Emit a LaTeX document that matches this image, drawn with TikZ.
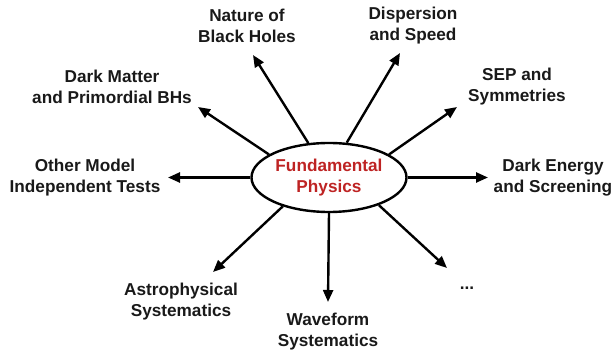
\documentclass[tikz,border=0pt]{standalone}
\usepackage{fontspec}
\setmainfont{Liberation Sans}
\usetikzlibrary{arrows.meta,shapes.geometric}
\definecolor{fpred}{RGB}{190,35,35}
\definecolor{lbl}{RGB}{25,25,25}
\tikzset{
  lab/.style={align=center, font=\bfseries\fontsize{17.2}{21}\selectfont, text=lbl, inner sep=0pt},
  arr/.style={line width=2.4pt, -{Triangle[length=12pt,width=10pt]}},
}
\begin{document}
\begin{tikzpicture}[x=1pt,y=-1pt]
\useasboundingbox (0,0) rectangle (614,352);
\node[ellipse, draw, line width=2.4pt, minimum width=155pt, minimum height=69pt, inner sep=0pt,
      align=center, text=fpred, font=\bfseries\fontsize{17.2}{21}\selectfont] (fp) at (329,177.5) {Fundamental\\Physics};
% labels
\node[lab] (nbh) at (247,26) {Nature of\\Black Holes};
\node[lab] (disp) at (413,26) {Dispersion\\and Speed};
\node[lab] (dm) at (112,87) {Dark Matter\\and Primordial BHs};
\node[lab] (sep) at (517,87) {SEP and\\Symmetries};
\node[lab] (omi) at (85,178) {Other Model\\Independent Tests};
\node[lab] (de) at (553,178) {Dark Energy\\and Screening};
\node[lab] (astro) at (181,302) {Astrophysical\\Systematics};
\node[lab] (wave) at (328,332) {Waveform\\Systematics};
\node[lab] (dots) at (467,288) {...};
% arrow tips
\coordinate (tnbh) at (253,55);
\coordinate (tdisp) at (400,53);
\coordinate (tdm) at (198,107);
\coordinate (tsep) at (457,107);
\coordinate (tomi) at (168,177.5);
\coordinate (tde) at (488,177.5);
\coordinate (tastro) at (213,272);
\coordinate (twave) at (328,302);
\coordinate (tdots) at (447,268);
% arrows
\draw[arr] (fp.121.8) -- (tnbh);
\draw[arr] (fp.63.1) -- (tdisp);
\draw[arr] (fp.159.8) -- (tdm);
\draw[arr] (fp.21.7) -- (tsep);
\draw[arr] (fp.west) -- (tomi);
\draw[arr] (fp.east) -- (tde);
\draw[arr] (fp.212.5) -- (tastro);
\draw[arr] (fp.south) -- (twave);
\draw[arr] (fp.331.4) -- (tdots);
\end{tikzpicture}
\end{document}
